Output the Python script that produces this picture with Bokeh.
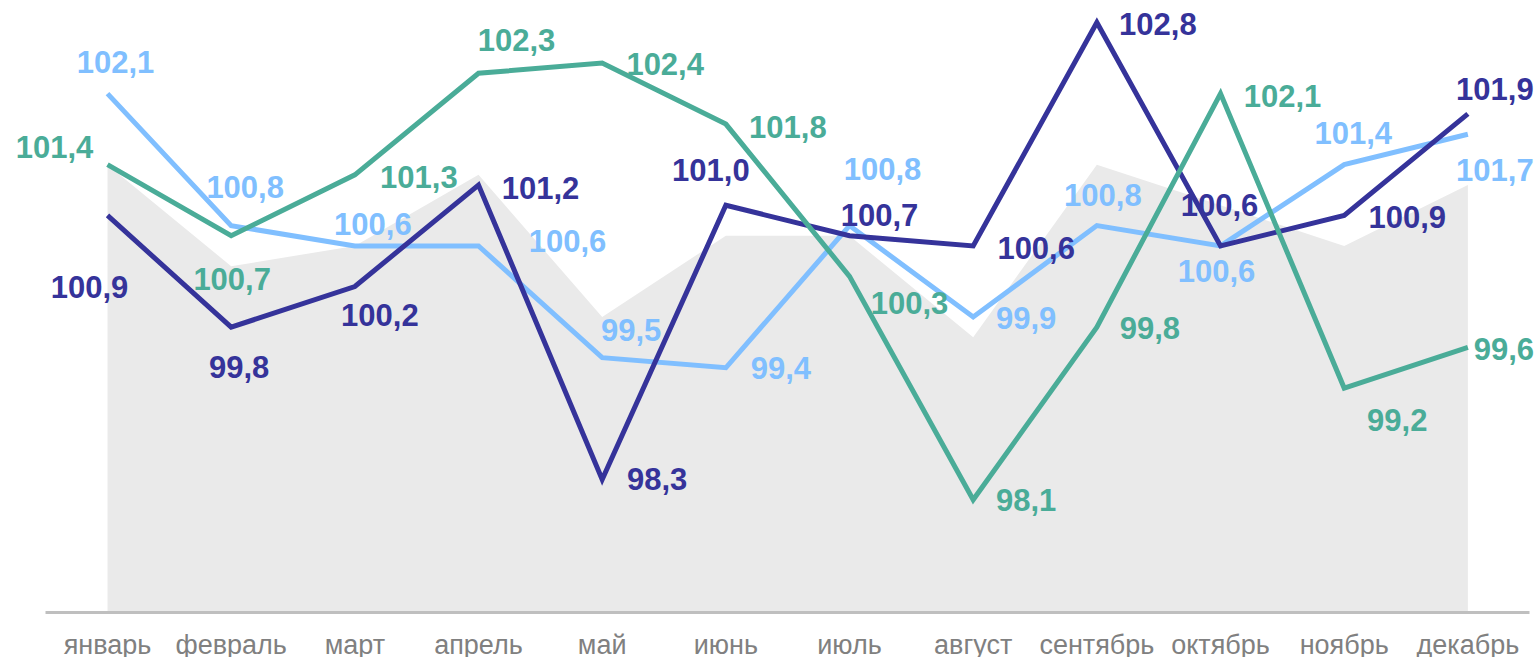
from bokeh.plotting import figure
from bokeh.models import ColumnDataSource, Range1d, LabelSet, FixedTicker
from bokeh.core.properties import value
from bokeh.embed import file_html
from bokeh.resources import INLINE

# ---- data ----
months = ["январь", "февраль", "март", "апрель", "май", "июнь",
          "июль", "август", "сентябрь", "октябрь", "ноябрь", "декабрь"]
series_navy = [100.9, 99.8, 100.2, 101.2, 98.3, 101.0, 100.7, 100.6, 102.8, 100.6, 100.9, 101.9]
series_light = [102.1, 100.8, 100.6, 100.6, 99.5, 99.4, 100.8, 99.9, 100.8, 100.6, 101.4, 101.7]
series_teal = [101.4, 100.7, 101.3, 102.3, 102.4, 101.8, 100.3, 98.1, 99.8, 102.1, 99.2, 99.6]
series_grey = [101.4, 100.4, 100.6, 101.3, 99.9, 100.7, 100.7, 99.7, 101.4, 101.0, 100.6, 101.2]

# ---- label placement (pixel offsets from point, +y = down on screen) ----
off_navy_x = [-18, 8, 25, 62, 55, -15, 30, 63, 61, -1, 63, 27]
off_navy_y = [72, 40, 28, 3, 0, -35, -21, 2, 1, -41, 2, -25]
off_light_x = [8, 14, 18, 89, 29, 55, 33, 53, 6, -4, 9, 27]
off_light_y = [-32, -39, -22, -5, -28, 0, -57, 1, -31, 25, -32, 36]
off_teal_x = [-53, 1, 64, 38, 63, 62, 60, 53, 53, 62, 53, 36]
off_teal_y = [-18, 43, 2, -33, 1, 3, 27, 0, 1, 2, 32, 2]

C_NAVY = "#35339A"
C_LIGHT = "#80BFFF"
C_TEAL = "#4AAC98"
C_GREY = "#EAEAEA"

# ---- layout ----
W = 1539
CAT_PX = 123.67          # width of one month slot in pixels
FIRST_PX = 107           # screen x of the first month's centre
Y0, Y1 = 96.99, 102.938

xs = list(range(len(months)))

p = figure(x_range=Range1d(-FIRST_PX / CAT_PX, (W - FIRST_PX) / CAT_PX),
           y_range=Range1d(Y0, Y1),
           frame_width=W, frame_height=604,
           min_border_left=0, min_border_right=0, min_border_top=8, min_border_bottom=0,
           y_axis_location=None, output_backend="svg", toolbar_location=None)

p.outline_line_color = None
p.grid.visible = False
p.background_fill_color = "white"
p.border_fill_color = "white"

p.varea(x=xs, y1=[Y0] * len(xs), y2=series_grey, fill_color=C_GREY)

for vals, col in [(series_light, C_LIGHT), (series_navy, C_NAVY), (series_teal, C_TEAL)]:
    p.line(xs, vals, line_width=5, line_color=col, line_join="miter")

def fmt(v):
    return f"{v:.1f}".replace(".", ",")

for vals, col, ox, oy in [(series_light, C_LIGHT, off_light_x, off_light_y),
                          (series_navy, C_NAVY, off_navy_x, off_navy_y),
                          (series_teal, C_TEAL, off_teal_x, off_teal_y)]:
    src = ColumnDataSource(dict(x=xs, y=vals, t=[fmt(v) for v in vals],
                                dx=ox, dy=[-d for d in oy]))
    p.add_layout(LabelSet(x="x", y="y", text="t", x_offset="dx", y_offset="dy", source=src,
                          text_font=value("Liberation Sans"), text_font_style="bold",
                          text_font_size="31px", text_color=col,
                          text_align="center", text_baseline="middle"))

ax = p.xaxis[0]
ax.ticker = FixedTicker(ticks=xs)
ax.major_label_overrides = {i: m for i, m in zip(xs, months)}
ax.bounds = (xs[0] - 0.5, xs[-1] + 0.5)
ax.axis_line_color = "#BFBFBF"
ax.axis_line_width = 3
ax.major_tick_line_color = None
ax.minor_tick_line_color = None
ax.major_label_text_font = "Liberation Sans"
ax.major_label_text_font_size = "27px"
ax.major_label_text_color = "#808080"
ax.major_label_standoff = 11

open("out.html", "w").write(file_html(p, INLINE))
